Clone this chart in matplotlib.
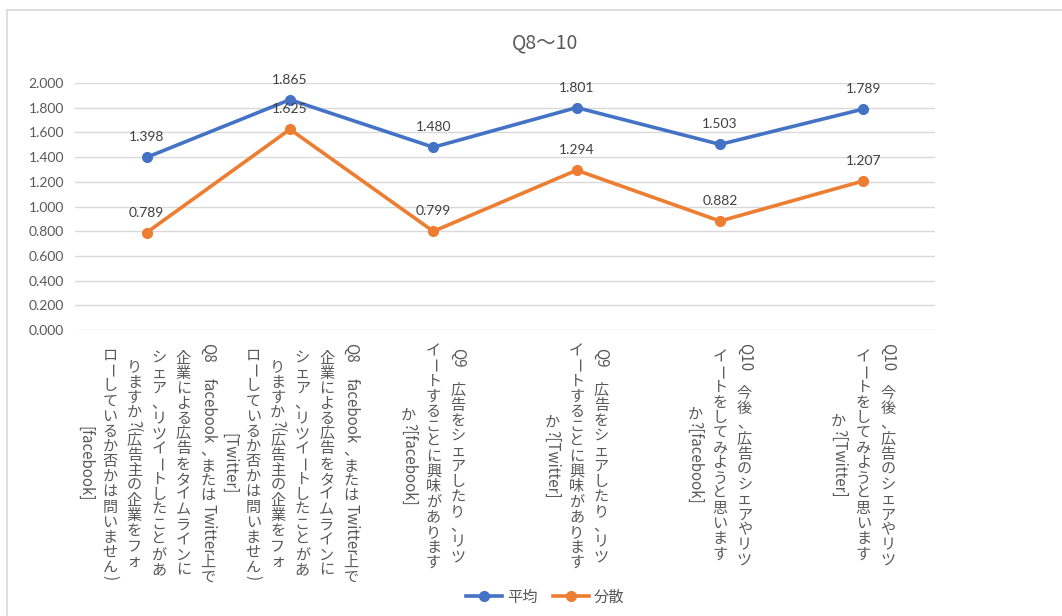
import matplotlib
matplotlib.use("Agg")
import matplotlib.pyplot as plt
from matplotlib.lines import Line2D
from matplotlib.font_manager import FontProperties
from matplotlib.textpath import TextToPath

# ---------------- data ----------------
categories = [
    ["Q8　facebook、またはTwitter上で", "企業による広告をタイムラインに", "シェア、リツイートしたことがあ",
     "りますか?(広告主の企業をフォ", "ローしているか否かは問いません)", "[facebook]"],
    ["Q8　facebook、またはTwitter上で", "企業による広告をタイムラインに", "シェア、リツイートしたことがあ",
     "りますか?(広告主の企業をフォ", "ローしているか否かは問いません)", "[Twitter]"],
    ["Q9　広告をシェアしたり、リツ", "イートすることに興味があります", "か?[facebook]"],
    ["Q9　広告をシェアしたり、リツ", "イートすることに興味があります", "か?[Twitter]"],
    ["Q10　今後、広告のシェアやリツ", "イートをしてみようと思います", "か?[facebook]"],
    ["Q10　今後、広告のシェアやリツ", "イートをしてみようと思います", "か?[Twitter]"],
]
series_names = ["平均", "分散"]
mean_values = [1.398, 1.865, 1.480, 1.801, 1.503, 1.789]
var_values = [0.789, 1.625, 0.799, 1.294, 0.882, 1.207]
yticks = [0.0, 0.2, 0.4, 0.6, 0.8, 1.0, 1.2, 1.4, 1.6, 1.8, 2.0]
title = "Q8～10"

BLUE = "#4472C4"
ORANGE = "#ED7D31"
TXT = "#595959"
GRID = "#D9D9D9"

plt.rcParams['font.family'] = ['Lato', 'Noto Sans CJK JP', 'DejaVu Sans']

fig = plt.figure(figsize=(10.62, 6.16), dpi=100)
fig.patch.set_facecolor("white")
W, H = 1062, 616

# outer chart border (top and left visible)
fig.add_artist(Line2D([7 / W, 1], [1 - 9.5 / H, 1 - 9.5 / H], color=GRID, lw=1.2, transform=fig.transFigure))
fig.add_artist(Line2D([7 / W, 7 / W], [0, 1 - 9.5 / H], color=GRID, lw=1.2, transform=fig.transFigure))

ax = fig.add_axes([75 / W, 1 - 330 / H, (935 - 75) / W, (330 - 83) / H])
x = list(range(len(mean_values)))

for yv in yticks:
    ax.axhline(yv, color=GRID, lw=1.0, zorder=0)

ax.plot(x, mean_values, color=BLUE, lw=2.6, marker='o', markersize=7, label=series_names[0], zorder=3)
ax.plot(x, var_values, color=ORANGE, lw=2.6, marker='o', markersize=7, label=series_names[1], zorder=3)

for xi, v in zip(x, mean_values):
    ax.annotate(f"{v:.3f}", (xi, v), xytext=(0, 14.4), textcoords='offset points',
                ha='center', va='center', fontsize=10, color="#404040", family=['Lato'])
for xi, v in zip(x, var_values):
    ax.annotate(f"{v:.3f}", (xi, v), xytext=(0, 14.4), textcoords='offset points',
                ha='center', va='center', fontsize=10, color="#404040", family=['Lato'])

ax.set_xlim(-0.5, len(x) - 0.5)
ax.set_ylim(0, 2.0)
ax.set_yticks(yticks)
ax.set_yticklabels([f"{v:.3f}" for v in yticks], fontsize=10, color=TXT)
ax.tick_params(axis='y', length=0, pad=8)
ax.set_xticks([])
for s in ax.spines.values():
    s.set_visible(False)

fig.text(545 / W, 1 - 43 / H, title, ha='center', va='center', fontsize=14, color=TXT,
         family=['Noto Sans CJK JP'])

# ---------------- vertical category labels ----------------
FS = 10.9  # pt
em = FS
prop = FontProperties(family='Noto Sans CJK JP', size=FS)
t2p = TextToPath()


def tokenize(s):
    toks = []
    run = ""
    for ch in s:
        if ord(ch) < 0x2000:
            run += ch
        else:
            if run:
                toks.append(("half", run))
                run = ""
            toks.append(("full", ch))
    if run:
        toks.append(("half", run))
    return toks


def tok_len(t):
    kind, s = t
    if kind == "full":
        return em
    w, h, d = t2p.get_text_width_height_descent(s, prop, ismath=False)
    return w


px = 0.72  # points per pixel at 100 dpi
pitch = 24.5 * px
top = 13 * px

for ci, lines in enumerate(categories):
    toks_lines = [tokenize(l) for l in lines]
    lens = [sum(tok_len(t) for t in tl) for tl in toks_lines]
    maxlen = max(lens)
    n = len(lines)
    for k, (tl, L) in enumerate(zip(toks_lines, lens)):
        colx = (n - 1) / 2 * pitch - k * pitch
        cur = top + (maxlen - L) / 2
        for kind, s in tl:
            ln = tok_len((kind, s))
            if kind == "half":
                ax.annotate(s, xy=(ci, 0), xycoords=('data', 'axes fraction'),
                            xytext=(colx, -cur), textcoords='offset points',
                            rotation=270, rotation_mode='anchor', ha='left', va='center',
                            fontsize=FS, color=TXT, family=['Noto Sans CJK JP'],
                            annotation_clip=False)
            else:
                rot = 270 if s in "ー" else 0
                ax.annotate(s, xy=(ci, 0), xycoords=('data', 'axes fraction'),
                            xytext=(colx, -(cur + ln / 2)), textcoords='offset points',
                            rotation=rot, rotation_mode='anchor', ha='center', va='center',
                            fontsize=FS, color=TXT, family=['Noto Sans CJK JP'],
                            annotation_clip=False)
            cur += ln

handles = [Line2D([], [], color=BLUE, lw=2.6, marker='o', markersize=7),
           Line2D([], [], color=ORANGE, lw=2.6, marker='o', markersize=7)]
leg = fig.legend(handles, series_names, loc='center', bbox_to_anchor=(545 / W, 1 - 597 / H), ncol=2,
                 frameon=False, handlelength=2.4, columnspacing=1.0, handletextpad=0.3,
                 prop=FontProperties(family='Noto Sans CJK JP', size=11))
for t in leg.get_texts():
    t.set_color(TXT)

fig.savefig("out.png", dpi=100, facecolor="white")
